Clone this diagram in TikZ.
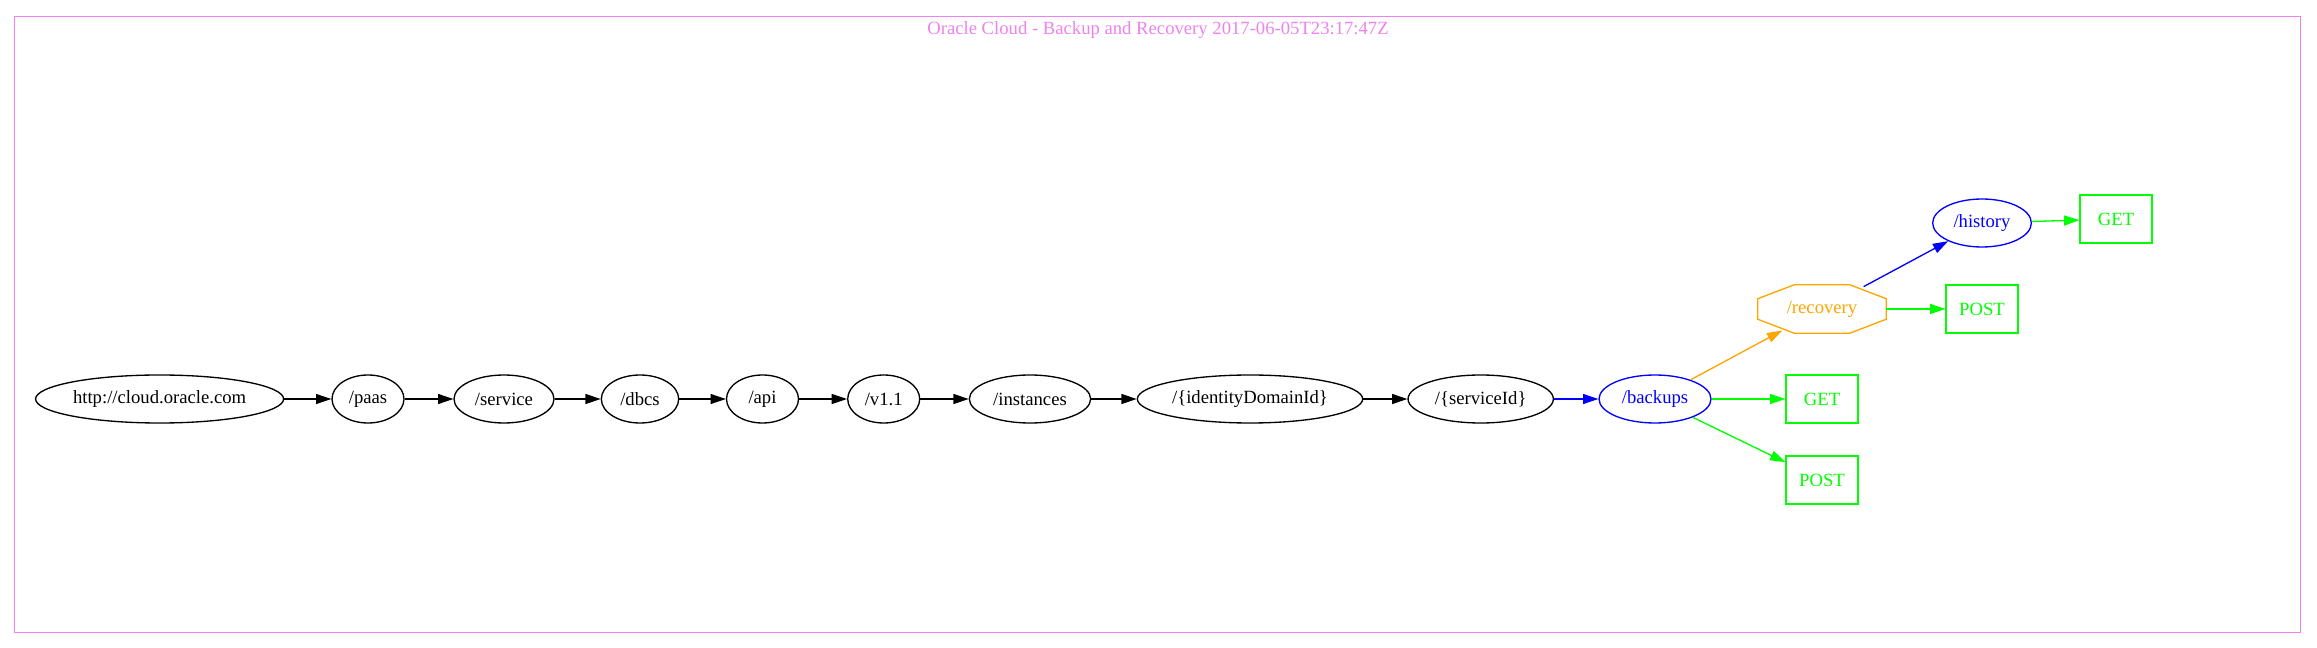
\documentclass[tikz,border=0pt]{standalone}
\usepackage{fontspec}
\setmainfont{Liberation Serif}
\usetikzlibrary{shapes.geometric, arrows.meta}
\definecolor{gvviolet}{HTML}{EE82EE}
\definecolor{gvorange}{HTML}{FFA500}
\definecolor{gvgreen}{HTML}{00FF00}
\definecolor{gvblue}{HTML}{0000FF}

\begin{document}
\begin{tikzpicture}[x=0.75pt, y=-0.75pt, font=\fontsize{14}{16}\selectfont,
    res/.style={draw, ellipse, line width=1pt, inner sep=0pt, minimum height=36pt},
    verb/.style={draw=gvgreen, text=gvgreen, line width=1pt, minimum width=54pt, minimum height=36pt},
    link/.style={line width=1pt, -{Triangle[length=11.5pt, width=7.5pt]}}]
    \useasboundingbox (0,0) rectangle (2317,648);

    % Frame and title
    \draw[gvviolet, line width=1pt] (14.8,16.3) rectangle (2300.8,632.5);
    \node[text=gvviolet] (title) at (1158,30) {Oracle Cloud - Backup and Recovery 2017-06-05T23:17:47Z};

    % Path segments
    \foreach \name/\x/\w/\label in {root/159.6/186/{http://cloud.oracle.com}, paas/368/54/{/paas},
        service/504/75/{/service}, dbcs/640/58/{/dbcs}, api/762.5/54/{/api}, vone/883.7/54/{/v1.1},
        instances/1030/91/{/instances}, domain/1250/169/{/\{identityDomainId\}},
        serviceid/1480.7/109/{/\{serviceId\}}}{
        \node[res, minimum width=\w pt] (\name) at (\x,399) {\label};
    }
    \node[res, gvblue, minimum width=84pt] (backups) at (1655,399) {/backups};
    \node[res, gvblue, minimum width=74pt] (history) at (1982,223) {/history};

    % Octagon for /recovery
    \node[text=gvorange, minimum width=96pt, minimum height=36pt] (recovery) at (1822,309) {/recovery};
    \draw[gvorange, line width=1pt] ([xshift=27.5pt]recovery.north west) -- ([xshift=-27.5pt]recovery.north east)
        -- ([yshift=-10.5pt]recovery.north east) -- ([yshift=10.5pt]recovery.south east)
        -- ([xshift=-27.5pt]recovery.south east) -- ([xshift=27.5pt]recovery.south west)
        -- ([yshift=10.5pt]recovery.south west) -- ([yshift=-10.5pt]recovery.north west) -- cycle;

    % Methods
    \node[verb] (backupsget) at (1822,399) {GET};
    \node[verb] (backupspost) at (1822,480) {POST};
    \node[verb] (recoverypost) at (1982,309) {POST};
    \node[verb] (historyget) at (2116,219) {GET};

    % Links
    \foreach \a/\b in {root/paas, paas/service, service/dbcs, dbcs/api, api/vone,
        vone/instances, instances/domain, domain/serviceid}{
        \draw[link] (\a) -- (\b);
    }
    \draw[link, gvblue] (serviceid) -- (backups);
    \draw[link, gvorange, shorten >=-4.5pt] (backups) -- (recovery);
    \draw[link, gvblue, shorten <=-3pt] (recovery) -- (history);
    \foreach \a/\b in {backups/backupsget, backups/backupspost, recovery/recoverypost, history/historyget}{
        \draw[link, gvgreen] (\a) -- (\b);
    }

\end{tikzpicture}
\end{document}
